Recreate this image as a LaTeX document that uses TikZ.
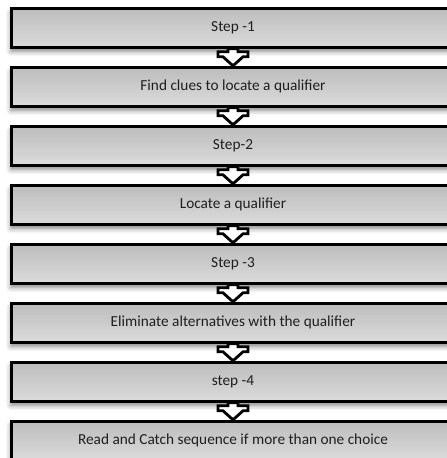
\documentclass[tikz,border=0pt]{standalone}
\usepackage{fontspec}
\setmainfont{Carlito}
\usetikzlibrary{calc,shadows.blur}
\tikzset{
  stepbox/.style={draw=black, line width=3pt, top color=gray!52, bottom color=gray!28,
    minimum width=444pt, minimum height=39pt, inner sep=0pt, anchor=center,
    font=\fontsize{15.3}{17}\selectfont, text=black!88,
    blur shadow={shadow xshift=0pt, shadow yshift=-4pt, shadow blur radius=5pt, shadow opacity=50}},
  arrowbox/.style={draw=black, line width=2.8pt, fill=white, line join=miter}
}
\begin{document}
\begin{tikzpicture}[x=1pt,y=-1pt]
\useasboundingbox (0,0) rectangle (447,458);
\clip (0,0) rectangle (447,458);
\node[stepbox] (b1) at (233,27.8) {Step -1};
\node[stepbox] (b2) at (233,86.8) {Find clues to locate a qualifier};
\node[stepbox] (b3) at (233,145.8) {Step-2};
\node[stepbox] (b4) at (233,204.8) {Locate a qualifier};
\node[stepbox] (b5) at (233,263.8) {Step -3};
\node[stepbox] (b6) at (233,322.8) {Eliminate alternatives with the qualifier};
\node[stepbox] (b7) at (233,381.8) {step -4};
\node[stepbox] (b8) at (233,440.8) {Read and Catch sequence if more than one choice};
\foreach \a/\b in {b1/b2,b2/b3,b3/b4,b4/b5,b5/b6,b6/b7,b7/b8}{
  \path[arrowbox] ($(\a.south)+(-5,0)$) -- ++(0,3) -- ++(-10,0) -- ++(0,5) -- ++(5,0)
    -- (\b.north) -- ($(\a.south)+(10,8)$) -- ++(5,0) -- ++(0,-5) -- ++(-10,0) -- ++(0,-3) -- cycle;
}
\end{tikzpicture}
\end{document}
